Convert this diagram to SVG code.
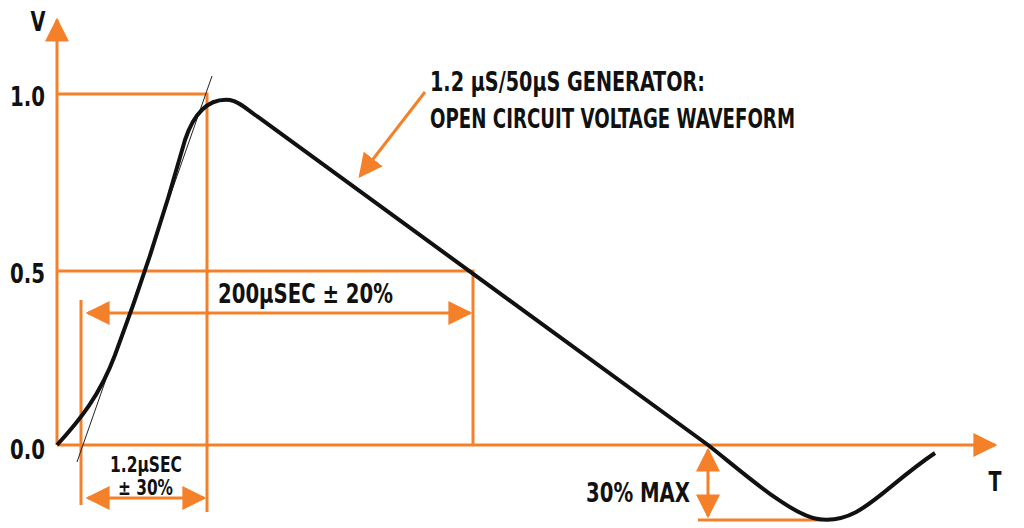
<svg xmlns="http://www.w3.org/2000/svg" width="1024" height="528" viewBox="0 0 1024 528">
<defs>
<style>
.o{stroke:#f5802a;stroke-width:3;fill:none}
.t{font-family:"DejaVu Sans Condensed","DejaVu Sans",sans-serif;font-weight:bold;fill:#111}
</style>
<marker id="ab" viewBox="0 0 10 10" refX="9" refY="5" markerWidth="8" markerHeight="8" orient="auto-start-reverse"><path d="M0,0L10,5L0,10Z" fill="#f5802a"/></marker>
</defs>
<rect width="1024" height="528" fill="#fff"/>
<g id="axes">
<line class="o" x1="57" y1="445" x2="57" y2="20" marker-end="url(#ab)"/>
<line class="o" x1="57" y1="445" x2="995" y2="445" marker-end="url(#ab)"/>
<text class="t" x="38" y="31" font-size="26" text-anchor="middle" textLength="15" lengthAdjust="spacingAndGlyphs">V</text>
<text class="t" x="995" y="491" font-size="26" text-anchor="middle" textLength="13" lengthAdjust="spacingAndGlyphs">T</text>
<text class="t" x="10" y="106" font-size="26" textLength="35" lengthAdjust="spacingAndGlyphs">1.0</text>
<text class="t" x="10" y="283" font-size="26" textLength="35" lengthAdjust="spacingAndGlyphs">0.5</text>
<text class="t" x="10" y="459" font-size="26" textLength="35" lengthAdjust="spacingAndGlyphs">0.0</text>
</g>
<g id="connectors">
<path class="o" d="M57,94H207V512M57,271H473V445M81,300V505M698,520H822"/>
<line class="o" x1="88" y1="313" x2="470" y2="313" marker-start="url(#ab)" marker-end="url(#ab)"/>
<line class="o" x1="88" y1="498" x2="204" y2="498" marker-start="url(#ab)" marker-end="url(#ab)"/>
<line class="o" x1="708" y1="450" x2="708" y2="516" marker-start="url(#ab)" marker-end="url(#ab)"/>
<line class="o" x1="425" y1="92" x2="360" y2="176" marker-end="url(#ab)"/>
<line x1="77" y1="462" x2="212" y2="76" stroke="#222" stroke-width="1"/>
<path d="M57,445C80,420 100,395 115,355C130,315 160,230 185,140C195,110 210,98 230,100C240,102 245,108 258,117L708,445C740,470 790,515 818,519C860,525 880,490 935,453" fill="none" stroke="#111" stroke-width="4"/>
</g>
<g id="labels">
<text class="t" x="430" y="91" font-size="26" textLength="275" lengthAdjust="spacingAndGlyphs">1.2 µS/50µS GENERATOR:</text>
<text class="t" x="430" y="128" font-size="26" textLength="365" lengthAdjust="spacingAndGlyphs">OPEN CIRCUIT VOLTAGE WAVEFORM</text>
<text class="t" x="218" y="303" font-size="26" textLength="175" lengthAdjust="spacingAndGlyphs">200µSEC ± 20%</text>
<text class="t" x="110" y="472" font-size="21" textLength="72" lengthAdjust="spacingAndGlyphs">1.2µSEC</text>
<text class="t" x="118" y="495" font-size="21" textLength="55" lengthAdjust="spacingAndGlyphs">± 30%</text>
<text class="t" x="586" y="502" font-size="26" textLength="104" lengthAdjust="spacingAndGlyphs">30% MAX</text>
</g>
</svg>
